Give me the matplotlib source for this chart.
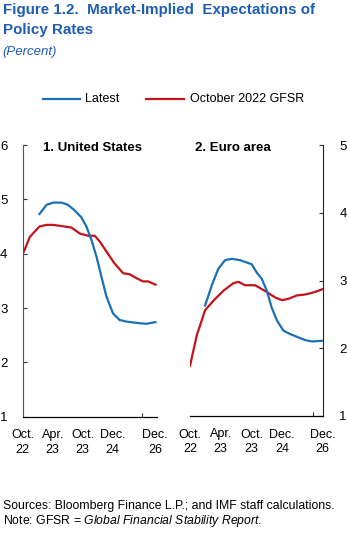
import matplotlib.pyplot as plt

# ----- data (x in ticks: 0=Oct.22, 1=Apr.23, 2=Oct.23, 3=Dec.24, 4.4=Dec.26) -----
us_oct_x = [0.04, 0.24, 0.56, 0.8, 1.02, 1.4, 1.63, 1.91, 2.19, 2.41, 2.58, 2.8, 3.07, 3.36, 3.58, 3.8, 4.02, 4.19, 4.44]
us_oct_y = [4.04, 4.31, 4.5, 4.53, 4.53, 4.5, 4.48, 4.37, 4.33, 4.33, 4.22, 4.04, 3.82, 3.64, 3.62, 3.55, 3.49, 3.49, 3.43]
us_latest_x = [0.56, 0.8, 1.02, 1.3, 1.51, 1.73, 1.96, 2.13, 2.3, 2.47, 2.63, 2.8, 3.02, 3.24, 3.47, 3.91, 4.13, 4.44]
us_latest_y = [4.73, 4.9, 4.94, 4.94, 4.9, 4.8, 4.67, 4.5, 4.25, 3.94, 3.58, 3.21, 2.9, 2.78, 2.75, 2.72, 2.71, 2.74]

ea_oct_x = [0.0, 0.22, 0.49, 0.76, 1.09, 1.41, 1.58, 1.79, 2.12, 2.5, 2.77, 2.99, 3.21, 3.48, 3.7, 3.91, 4.13, 4.3]
ea_oct_y = [1.74, 2.19, 2.56, 2.70, 2.85, 2.96, 2.98, 2.93, 2.93, 2.83, 2.75, 2.71, 2.73, 2.78, 2.79, 2.81, 2.84, 2.87]
ea_latest_x = [0.49, 0.71, 0.92, 1.14, 1.36, 1.63, 2.01, 2.17, 2.34, 2.5, 2.66, 2.83, 3.04, 3.26, 3.53, 3.75, 3.97, 4.29]
ea_latest_y = [2.63, 2.93, 3.17, 3.30, 3.32, 3.30, 3.24, 3.12, 3.02, 2.85, 2.60, 2.41, 2.26, 2.21, 2.16, 2.12, 2.10, 2.11]

tick_labels = ["Oct.\n22", "Apr.\n23", "Oct.\n23", "Dec.\n24", "Dec.\n26"]

BLUE = "#1a6fb6"
RED = "#c3141c"
TITLE_BLUE = "#1f5db4"

plt.rcParams["font.family"] = ["Liberation Sans", "DejaVu Sans"]
plt.rcParams["mathtext.fontset"] = "custom"
plt.rcParams["mathtext.it"] = "Liberation Sans:italic"
plt.rcParams["mathtext.rm"] = "Liberation Sans"

fig = plt.figure(figsize=(3.47, 5.37), dpi=100)

# header
fig.text(0.008, 1 - 10 / 537, "Figure 1.2.  Market-Implied  Expectations of",
         ha="left", va="center", fontsize=10.9, fontweight="bold", color=TITLE_BLUE)
fig.text(0.008, 1 - 30 / 537, "Policy Rates",
         ha="left", va="center", fontsize=10.9, fontweight="bold", color=TITLE_BLUE)
fig.text(0.008, 1 - 52 / 537, "(Percent)", ha="left", va="center", fontsize=9.5,
         style="italic", color=TITLE_BLUE)

# legend
fig.lines.append(plt.Line2D([43 / 347, 80 / 347], [1 - 99 / 537] * 2, color=BLUE, lw=1.6,
                            transform=fig.transFigure))
fig.text(85 / 347, 1 - 99 / 537, "Latest", ha="left", va="center", fontsize=9)
fig.lines.append(plt.Line2D([146 / 347, 184 / 347], [1 - 99 / 537] * 2, color=RED, lw=1.6,
                            transform=fig.transFigure))
fig.text(190 / 347, 1 - 99 / 537, "October 2022 GFSR", ha="left", va="center", fontsize=9)


def style_axes(ax, xmax, label_end):
    ax.set_xlim(0, xmax)
    ax.set_xticks([0, 1, 2, 3, label_end])
    ax.set_xticklabels(tick_labels, fontsize=9, linespacing=1.3)
    ax.tick_params(axis="x", which="major", length=0, pad=9)
    ax.set_xticks([0, 1, 2, 3, 4], minor=True)
    ax.tick_params(axis="x", which="minor", direction="in", length=3, width=0.8, color="#333333")
    ax.tick_params(axis="y", direction="in", length=3, width=0.8, labelsize=9.5, color="#333333")
    ax.spines["top"].set_visible(False)
    ax.spines["bottom"].set_linewidth(0.9)
    ax.patch.set_visible(False)


# panel 1: United States
ax1 = fig.add_axes([22.7 / 347, (537 - 416.7) / 537, 134.3 / 347, 271.7 / 537])
ax1.plot(us_oct_x, us_oct_y, color=RED, lw=1.6)
ax1.plot(us_latest_x, us_latest_y, color=BLUE, lw=1.6)
ax1.set_ylim(1, 6)
ax1.set_yticks([1, 2, 3, 4, 5, 6])
style_axes(ax1, 4.49, 4.43)
ax1.spines["right"].set_visible(False)
ax1.spines["left"].set_color("#555555")
ax1.tick_params(axis="y", pad=11)
ax1.text(0.52, 0.99, "1. United States", transform=ax1.transAxes, ha="center", va="center",
         fontsize=9.5, fontweight="bold")

# panel 2: Euro area
ax2 = fig.add_axes([190 / 347, (537 - 416) / 537, 132.7 / 347, 271 / 537])
ax2.plot(ea_oct_x, ea_oct_y, color=RED, lw=1.6)
ax2.plot(ea_latest_x, ea_latest_y, color=BLUE, lw=1.6)
ax2.set_ylim(1, 5)
ax2.set_yticks([1, 2, 3, 4, 5])
style_axes(ax2, 4.32, 4.32)
ax2.spines["left"].set_visible(False)
ax2.spines["right"].set_color("#222222")
ax2.yaxis.tick_right()
ax2.tick_params(axis="y", pad=12)
ax2.text(0.32, 0.99, "2. Euro area", transform=ax2.transAxes, ha="center", va="center",
         fontsize=9.5, fontweight="bold")

# footnotes
fig.text(0.008, 1 - 506 / 537, "Sources: Bloomberg Finance L.P.; and IMF staff calculations.",
         ha="left", va="center", fontsize=8.8)
fig.text(0.008, 1 - 521 / 537, "Note: GFSR = $\\it{Global\\ Financial\\ Stability\\ Report}$.",
         ha="left", va="center", fontsize=8.8)

fig.savefig("out.png", dpi=100)
